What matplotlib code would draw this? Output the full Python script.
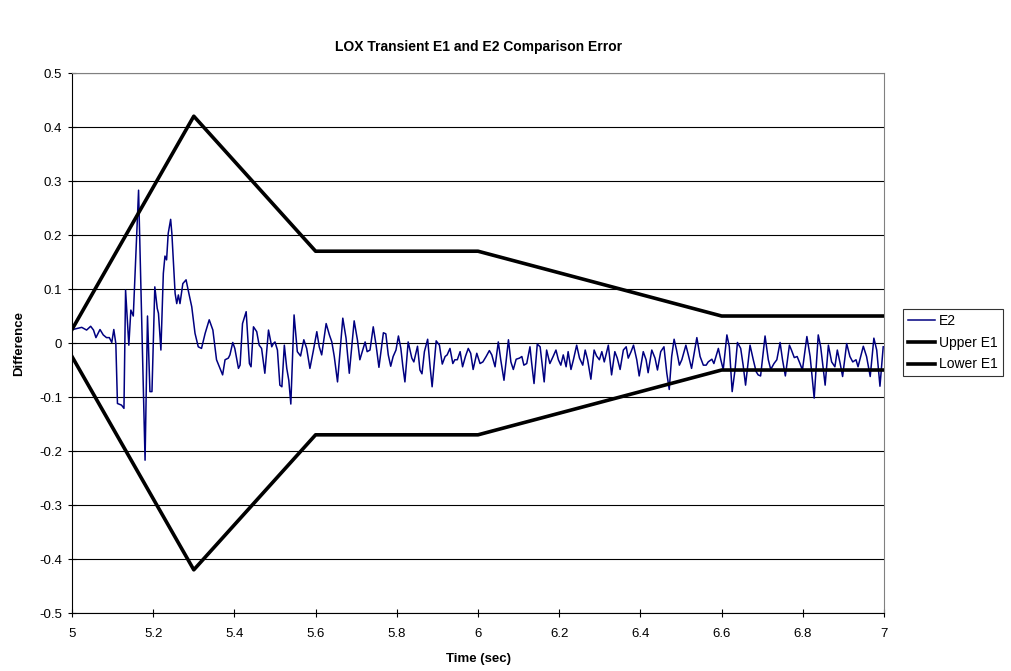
import matplotlib
matplotlib.use("Agg")
import matplotlib.pyplot as plt

plt.rcParams["font.family"] = ["Liberation Sans", "DejaVu Sans"]

# E2 difference trace (sec, difference)
t_e2 = [5.002, 5.024, 5.036, 5.046, 5.053, 5.059, 5.069, 5.077, 5.085, 5.092,
        5.098, 5.103, 5.108, 5.112, 5.122, 5.128, 5.132, 5.140, 5.145, 5.151,
        5.164, 5.180, 5.186, 5.192, 5.197, 5.204, 5.210, 5.213, 5.219, 5.225,
        5.229, 5.233, 5.237, 5.243, 5.246, 5.254, 5.258, 5.262, 5.266, 5.273,
        5.281, 5.287, 5.295, 5.303, 5.311, 5.319, 5.328, 5.338, 5.347, 5.356,
        5.371, 5.377, 5.385, 5.389, 5.396, 5.401, 5.410, 5.414, 5.420, 5.429,
        5.437, 5.441, 5.447, 5.455, 5.461, 5.467, 5.475, 5.484, 5.492, 5.496,
        5.500, 5.506, 5.512, 5.517, 5.523, 5.529, 5.534, 5.539, 5.547, 5.555,
        5.563, 5.571, 5.578, 5.586, 5.594, 5.603, 5.609, 5.615, 5.626, 5.634,
        5.640, 5.646, 5.654, 5.667, 5.675, 5.683, 5.695, 5.703, 5.709, 5.716,
        5.722, 5.727, 5.734, 5.742, 5.749, 5.756, 5.767, 5.773, 5.779, 5.785,
        5.791, 5.798, 5.804, 5.810, 5.815, 5.820, 5.828, 5.837, 5.842, 5.851,
        5.857, 5.862, 5.868, 5.876, 5.882, 5.887, 5.897, 5.905, 5.912, 5.919,
        5.924, 5.931, 5.938, 5.943, 5.949, 5.956, 5.962, 5.969, 5.976, 5.982,
        5.988, 5.997, 6.005, 6.012, 6.020, 6.028, 6.034, 6.042, 6.050, 6.056,
        6.064, 6.075, 6.081, 6.087, 6.094, 6.102, 6.108, 6.113, 6.120, 6.128,
        6.132, 6.138, 6.146, 6.153, 6.163, 6.169, 6.177, 6.185, 6.192, 6.198,
        6.204, 6.210, 6.217, 6.222, 6.229, 6.235, 6.243, 6.250, 6.258, 6.264,
        6.270, 6.278, 6.286, 6.292, 6.299, 6.305, 6.311, 6.321, 6.329, 6.337,
        6.343, 6.350, 6.358, 6.365, 6.370, 6.377, 6.383, 6.391, 6.397, 6.407,
        6.414, 6.419, 6.428, 6.436, 6.442, 6.450, 6.458, 6.465, 6.471, 6.477,
        6.483, 6.489, 6.496, 6.502, 6.512, 6.518, 6.526, 6.539, 6.547, 6.555,
        6.562, 6.567, 6.576, 6.581, 6.592, 6.598, 6.604, 6.613, 6.619, 6.626,
        6.633, 6.639, 6.647, 6.653, 6.659, 6.670, 6.678, 6.685, 6.690, 6.696,
        6.707, 6.715, 6.721, 6.729, 6.736, 6.744, 6.750, 6.757, 6.767, 6.772,
        6.779, 6.786, 6.793, 6.799, 6.810, 6.818, 6.828, 6.838, 6.844, 6.855,
        6.863, 6.871, 6.879, 6.885, 6.892, 6.898, 6.908, 6.916, 6.923, 6.931,
        6.936, 6.949, 6.957, 6.966, 6.975, 6.982, 6.990, 6.998]
e2 = [0.025, 0.029, 0.024, 0.031, 0.024, 0.010, 0.025, 0.015, 0.010, 0.010,
      0.001, 0.025, -0.001, -0.112, -0.115, -0.121, 0.098, -0.004, 0.061, 0.050,
      0.283, -0.217, 0.050, -0.090, -0.090, 0.104, 0.064, 0.055, -0.013, 0.129,
      0.161, 0.154, 0.203, 0.229, 0.203, 0.092, 0.073, 0.089, 0.073, 0.110,
      0.117, 0.095, 0.067, 0.018, -0.007, -0.010, 0.018, 0.043, 0.024, -0.031,
      -0.059, -0.031, -0.028, -0.022, 0.001, -0.010, -0.047, -0.041, 0.036, 0.058,
      -0.038, -0.044, 0.030, 0.021, -0.004, -0.010, -0.056, 0.024, -0.007, -0.001,
      0.002, -0.013, -0.078, -0.081, -0.004, -0.047, -0.069, -0.113, 0.052, -0.016,
      -0.024, 0.006, -0.010, -0.047, -0.016, 0.021, -0.007, -0.022, 0.036, 0.015,
      0.002, -0.025, -0.072, 0.046, 0.009, -0.056, 0.041, 0.006, -0.031, -0.013,
      0.002, -0.016, -0.013, 0.030, -0.004, -0.045, 0.019, 0.017, -0.022, -0.043,
      -0.025, -0.013, 0.013, -0.010, -0.044, -0.072, 0.002, -0.028, -0.035, -0.006,
      -0.050, -0.057, -0.016, 0.007, -0.044, -0.081, 0.004, -0.004, -0.039, -0.025,
      -0.022, -0.010, -0.038, -0.031, -0.031, -0.016, -0.044, -0.025, -0.010, -0.019,
      -0.049, -0.019, -0.038, -0.035, -0.025, -0.014, -0.022, -0.044, 0.002, -0.031,
      -0.069, 0.006, -0.035, -0.049, -0.030, -0.028, -0.025, -0.041, -0.038, -0.007,
      -0.036, -0.075, -0.002, -0.007, -0.072, -0.013, -0.038, -0.025, -0.013, -0.031,
      -0.041, -0.022, -0.044, -0.016, -0.049, -0.031, -0.004, -0.028, -0.041, -0.013,
      -0.031, -0.067, -0.013, -0.024, -0.031, -0.016, -0.035, -0.004, -0.059, -0.016,
      -0.028, -0.049, -0.013, -0.007, -0.028, -0.016, -0.004, -0.031, -0.061, -0.016,
      -0.031, -0.055, -0.013, -0.028, -0.050, -0.016, -0.007, -0.056, -0.086, -0.025,
      0.007, -0.013, -0.041, -0.031, -0.004, -0.022, -0.047, 0.010, -0.025, -0.041,
      -0.041, -0.035, -0.030, -0.038, -0.010, -0.031, -0.049, 0.015, -0.007, -0.090,
      -0.050, 0.001, -0.010, -0.041, -0.078, -0.004, -0.031, -0.053, -0.059, -0.061,
      0.013, -0.031, -0.049, -0.038, -0.031, 0.001, -0.031, -0.061, -0.004, -0.013,
      -0.027, -0.025, -0.038, -0.050, 0.012, -0.025, -0.102, 0.015, -0.007, -0.078,
      -0.004, -0.035, -0.044, -0.013, -0.038, -0.062, -0.001, -0.025, -0.035, -0.031,
      -0.044, -0.006, -0.025, -0.062, 0.009, -0.013, -0.080, -0.007]

# E1 tolerance envelope
t_e1 = [5.0, 5.3, 5.6, 6.0, 6.6, 7.0]
upper_e1 = [0.025, 0.42, 0.17, 0.17, 0.05, 0.05]
lower_e1 = [-0.025, -0.42, -0.17, -0.17, -0.05, -0.05]

fig = plt.figure(figsize=(10.11, 6.71), dpi=100)
ax = fig.add_axes([0.0712, 0.0864, 0.8032, 0.8048])

ax.plot(t_e2, e2, color="#000080", lw=1.1, label="E2", zorder=3)
ax.plot(t_e1, upper_e1, color="black", lw=2.6, label="Upper E1", zorder=4)
ax.plot(t_e1, lower_e1, color="black", lw=2.6, label="Lower E1", zorder=4)

ax.set_xlim(5, 7)
ax.set_ylim(-0.5, 0.5)
ax.set_xticks([5, 5.2, 5.4, 5.6, 5.8, 6, 6.2, 6.4, 6.6, 6.8, 7])
ax.set_xticklabels(["5", "5.2", "5.4", "5.6", "5.8", "6", "6.2", "6.4", "6.6", "6.8", "7"])
yt = [-0.5, -0.4, -0.3, -0.2, -0.1, 0, 0.1, 0.2, 0.3, 0.4, 0.5]
ax.set_yticks(yt)
ax.set_yticklabels(["-0.5", "-0.4", "-0.3", "-0.2", "-0.1", "0", "0.1", "0.2", "0.3", "0.4", "0.5"])
ax.yaxis.grid(True, color="black", lw=0.8)
ax.set_axisbelow(True)
ax.tick_params(labelsize=9.5, length=6, width=0.8, color="black", direction="inout")
ax.tick_params(axis="x", pad=8)
ax.tick_params(axis="y", pad=4)

for side in ["top", "right"]:
    ax.spines[side].set_color("#808080")
for side in ["left", "bottom"]:
    ax.spines[side].set_color("black")

ax.set_xlabel("Time (sec)", fontsize=9.5, fontweight="bold", labelpad=9)
ax.set_ylabel("Difference", fontsize=9.5, fontweight="bold", labelpad=10)
fig.text(0.473, 0.93, "LOX Transient E1 and E2 Comparison Error",
         ha="center", va="center", fontsize=10, fontweight="bold")

leg = fig.legend(loc="upper left", bbox_to_anchor=(0.893, 0.539), fontsize=10,
                 frameon=True, fancybox=False, borderpad=0.35, handlelength=2.0,
                 handletextpad=0.25, labelspacing=0.55, borderaxespad=0)
leg.get_frame().set_edgecolor("black")
leg.get_frame().set_linewidth(0.8)

fig.savefig("out.png", dpi=100)
